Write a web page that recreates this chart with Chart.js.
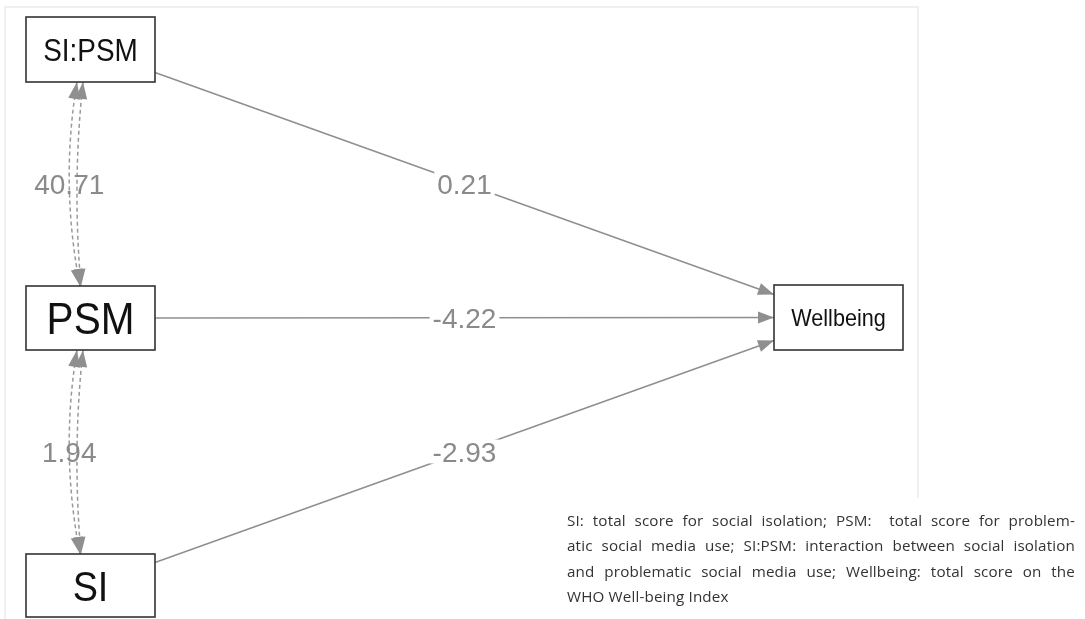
<!DOCTYPE html>
<html>
<head>
<meta charset="utf-8">
<title>Path model: SI, PSM and Wellbeing</title>
<script src="https://cdn.jsdelivr.net/npm/chart.js@4.4.1/dist/chart.umd.min.js"></script>
<style>
  html, body { margin: 0; padding: 0; background: #fff; overflow: hidden; }
  #wrap { position: relative; width: 1085px; height: 619px; }
  #diagram { position: absolute; left: 0; top: 0; }
  #note {
    position: absolute; left: 567px; top: 508px; width: 508px;
    font-family: "Open Sans", Lato, sans-serif; font-size: 15.2px; line-height: 25.4px;
    letter-spacing: 0.15px; color: #333;
  }
  #note span { display: block; white-space: nowrap; }
  #note span.j { text-align: justify; text-align-last: justify; white-space: normal; }
</style>
</head>
<body>
<div id="wrap">
  <canvas id="diagram" width="1085" height="619"></canvas>
  <div id="note">
    <span class="j">SI: total score for social isolation; PSM:&nbsp; total score for problem-</span>
    <span class="j">atic social media use; SI:PSM: interaction between social isolation</span>
    <span class="j">and problematic social media use; Wellbeing: total score on the</span>
    <span>WHO Well-being Index</span>
  </div>
</div>

<script>
  // Model values
  const nodeNames = ['SI:PSM', 'PSM', 'SI', 'Wellbeing'];
  const pathSources = ['SI:PSM', 'PSM', 'SI'];
  const pathTarget = 'Wellbeing';
  const pathCoefs = [0.21, -4.22, -2.93];
  const covPairs = [['SI:PSM', 'PSM'], ['PSM', 'SI']];
  const covValues = [40.71, 1.94];

  // Layout of the boxes (in axis units, axes span the whole canvas)
  const boxes = {
    'SI:PSM':    { x0: 26,  x1: 155, y0: 17,  y1: 82,  font: 31 },
    'PSM':       { x0: 26,  x1: 155, y0: 286, y1: 350, font: 45 },
    'SI':        { x0: 26,  x1: 155, y0: 554, y1: 617, font: 42 },
    'Wellbeing': { x0: 774, x1: 903, y0: 285, y1: 350, font: 24 }
  };

  const centre = name => {
    const b = boxes[name];
    return { x: (b.x0 + b.x1) / 2, y: (b.y0 + b.y1) / 2 };
  };

  // where the centre-to-centre line leaves a box
  function clipToBox(from, to, name) {
    const b = boxes[name];
    const dx = to.x - from.x, dy = to.y - from.y;
    const hw = (b.x1 - b.x0) / 2, hh = (b.y1 - b.y0) / 2;
    const t = Math.min(dx ? hw / Math.abs(dx) : Infinity, dy ? hh / Math.abs(dy) : Infinity);
    return { x: from.x + dx * t, y: from.y + dy * t };
  }

  const pathSegments = pathSources.map(src => {
    const a = centre(src), b = centre(pathTarget);
    return [clipToBox(a, b, src), clipToBox(b, a, pathTarget)];
  });

  // two slightly bowed dashed strokes per covariance, as in the original
  function covCurves(pair) {
    const top = boxes[pair[0]], bottom = boxes[pair[1]];
    const ym = (top.y1 + bottom.y0) / 2;
    return [
      { p0: { x: 77, y: top.y1 }, c: { x: 60, y: ym }, p1: { x: 80, y: bottom.y0 } },
      { p0: { x: 83, y: top.y1 }, c: { x: 72, y: ym }, p1: { x: 81, y: bottom.y0 } }
    ];
  }

  const lineGrey = '#8f8f8f';
  const labelGrey = '#8a8a8a';

  function arrowHead(ctx, tip, dirX, dirY, len, half) {
    const n = Math.hypot(dirX, dirY);
    const ux = dirX / n, uy = dirY / n;
    const bx = tip.x - ux * len, by = tip.y - uy * len;
    ctx.beginPath();
    ctx.moveTo(tip.x, tip.y);
    ctx.lineTo(bx - uy * half, by + ux * half);
    ctx.lineTo(bx + uy * half, by - ux * half);
    ctx.closePath();
    ctx.fill();
  }

  const diagramPlugin = {
    id: 'diagram',
    beforeDraw(chart) {
      const ctx = chart.ctx;
      const sx = chart.scales.x, sy = chart.scales.y;
      ctx.save();
      ctx.fillStyle = '#fff';
      ctx.fillRect(0, 0, chart.width, chart.height);
      // faint frame of the figure panel
      ctx.strokeStyle = '#ebebeb';
      ctx.lineWidth = 1.5;
      ctx.beginPath();
      ctx.moveTo(sx.getPixelForValue(5), sy.getPixelForValue(619));
      ctx.lineTo(sx.getPixelForValue(5), sy.getPixelForValue(7));
      ctx.lineTo(sx.getPixelForValue(918), sy.getPixelForValue(7));
      ctx.lineTo(sx.getPixelForValue(918), sy.getPixelForValue(498));
      ctx.stroke();
      ctx.restore();
    },
    afterDatasetsDraw(chart) {
      const ctx = chart.ctx;
      const sx = chart.scales.x, sy = chart.scales.y;
      const px = p => ({ x: sx.getPixelForValue(p.x), y: sy.getPixelForValue(p.y) });
      ctx.save();

      // arrow heads and coefficient labels of the regression paths
      ctx.fillStyle = lineGrey;
      pathSegments.forEach(seg => {
        const a = px(seg[0]), b = px(seg[1]);
        arrowHead(ctx, b, b.x - a.x, b.y - a.y, 16, 6);
      });
      ctx.font = '28px "Liberation Sans", Arial, sans-serif';
      ctx.textAlign = 'center';
      ctx.textBaseline = 'alphabetic';
      pathSegments.forEach((seg, i) => {
        const a = px(seg[0]), b = px(seg[1]);
        const mx = (a.x + b.x) / 2, my = (a.y + b.y) / 2;
        const txt = pathCoefs[i].toFixed(2);
        const w = ctx.measureText(txt).width;
        ctx.fillStyle = '#fff';
        ctx.fillRect(mx - w / 2 - 3, my - 12, w + 6, 24);
        ctx.fillStyle = labelGrey;
        ctx.fillText(txt, mx, my + 10);
      });

      // covariances: dashed double-headed curves
      covPairs.forEach((pair, i) => {
        const curves = covCurves(pair);
        ctx.strokeStyle = '#9a9a9a';
        ctx.lineWidth = 1.5;
        ctx.setLineDash([4, 3]);
        curves.forEach(c => {
          const p0 = px(c.p0), cc = px(c.c), p1 = px(c.p1);
          ctx.beginPath();
          ctx.moveTo(p0.x, p0.y);
          ctx.quadraticCurveTo(cc.x, cc.y, p1.x, p1.y);
          ctx.stroke();
        });
        ctx.setLineDash([]);
        ctx.fillStyle = lineGrey;
        curves.forEach(c => {
          const p0 = px(c.p0), cc = px(c.c), p1 = px(c.p1);
          arrowHead(ctx, p0, p0.x - cc.x, p0.y - cc.y, 17, 6);
          arrowHead(ctx, p1, p1.x - cc.x, p1.y - cc.y, 17, 6);
        });
        const c0 = curves[0];
        const mid = px({ x: 0.25 * c0.p0.x + 0.5 * c0.c.x + 0.25 * c0.p1.x,
                         y: 0.25 * c0.p0.y + 0.5 * c0.c.y + 0.25 * c0.p1.y });
        ctx.fillStyle = labelGrey;
        ctx.font = '28px "Liberation Sans", Arial, sans-serif';
        ctx.fillText(covValues[i].toFixed(2), mid.x, mid.y + 10);
      });

      // variable boxes
      nodeNames.forEach(name => {
        const b = boxes[name];
        const tl = px({ x: b.x0, y: b.y0 }), br = px({ x: b.x1, y: b.y1 });
        ctx.fillStyle = '#fff';
        ctx.fillRect(tl.x, tl.y, br.x - tl.x, br.y - tl.y);
        ctx.strokeStyle = '#333';
        ctx.lineWidth = 1.6;
        ctx.strokeRect(tl.x, tl.y, br.x - tl.x, br.y - tl.y);
        const cx = (tl.x + br.x) / 2, cy = (tl.y + br.y) / 2;
        ctx.save();
        ctx.translate(cx, cy);
        ctx.scale(0.9, 1);
        ctx.fillStyle = '#111';
        ctx.font = b.font + 'px "Liberation Sans", Arial, sans-serif';
        ctx.textAlign = 'center';
        ctx.fillText(name, 0, b.font * 0.358);
        ctx.restore();
      });

      ctx.restore();
    }
  };

  document.addEventListener('DOMContentLoaded', function() {
    const ctx = document.getElementById('diagram').getContext('2d');
    new Chart(ctx, {
      type: 'scatter',
      data: {
        datasets: pathSources.map((src, i) => ({
          type: 'line',
          label: src + ' -> ' + pathTarget,
          data: pathSegments[i],
          borderColor: lineGrey,
          borderWidth: 1.6,
          pointRadius: 0,
          fill: false
        }))
      },
      options: {
        responsive: false,
        animation: false,
        events: [],
        layout: { padding: 0 },
        plugins: {
          legend: { display: false },
          tooltip: { enabled: false }
        },
        scales: {
          x: { type: 'linear', min: 0, max: 1085, display: false },
          y: { type: 'linear', min: 0, max: 619, reverse: true, display: false }
        }
      },
      plugins: [diagramPlugin]
    });
  });
</script>
</body>
</html>
